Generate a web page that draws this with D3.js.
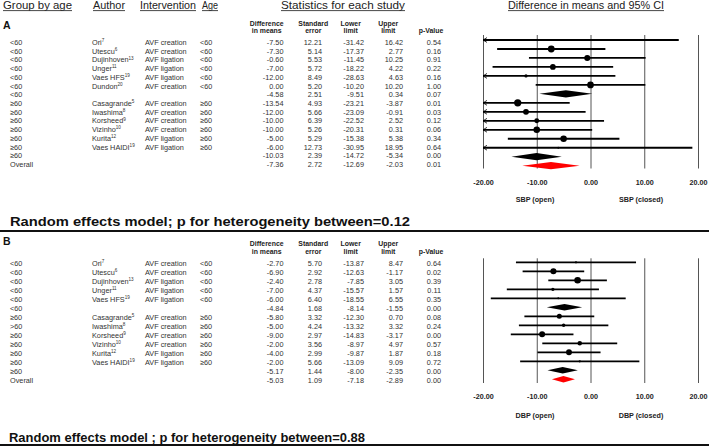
<!DOCTYPE html>
<html><head><meta charset="utf-8">
<script src="https://cdn.jsdelivr.net/npm/d3@7"></script>
<style>
html,body{margin:0;padding:0;background:#fff;}
svg{display:block;font-family:"Liberation Sans",Arial,sans-serif;}
</style></head><body>
<svg id="c" width="709" height="446"></svg>
<script>
// ---------- DATA ----------
const tickVals = [-20, -10, 0, 10, 20];

// Panel A (SBP)
const groupsA = ["<60","<60","<60","<60","<60","<60","<60","≥60","≥60","≥60","≥60","≥60","≥60","≥60","Overall"];
const authorsA = ["Ori","Utescu","Dujinhoven","Unger","Vaes HFS","Dundon","","Casagrande","Iwashima","Korsheed","Vizinho","Kurita","Vaes HAIDI","",""];
const refsA = ["7","6","13","11","19","20","","5","8","9","10","12","19","",""];
const interventionsA = ["AVF creation","AVF creation","AVF ligation","AVF ligation","AVF ligation","AVF creation","","AVF creation","AVF creation","AVF creation","AVF creation","AVF ligation","AVF ligation","",""];
const agesA = ["<60","<60","<60","<60","<60","<60","","≥60","≥60","≥60","≥60","≥60","≥60","",""];
const kindsA = ["s","s","s","s","s","s","sub","s","s","s","s","s","s","sub","all"];
const diffA = [-7.50,-7.30,-0.60,-7.00,-12.00,0.00,-4.58,-13.54,-12.00,-10.00,-10.00,-5.00,-6.00,-10.03,-7.36];
const seA = [12.21,5.14,5.53,5.72,8.49,5.20,2.51,4.93,5.66,6.39,5.26,5.29,12.73,2.39,2.72];
const lowerA = [-31.42,-17.37,-11.45,-18.22,-28.63,-10.20,-9.51,-23.21,-23.09,-22.52,-20.31,-15.38,-30.95,-14.72,-12.69];
const upperA = [16.42,2.77,10.25,4.22,4.63,10.20,0.34,-3.87,-0.91,2.52,0.31,5.38,18.95,-5.34,-2.03];
const pA = [0.54,0.16,0.91,0.22,0.16,1.00,0.07,0.01,0.03,0.12,0.06,0.34,0.64,0.00,0.01];

// Panel B (DBP)
const groupsB = ["<60","<60","<60","<60","<60","<60","≥60",">60","≥60","≥60","≥60","≥60","≥60","Overall"];
const authorsB = ["Ori","Utescu","Dujinhoven","Unger","Vaes HFS","","Casagrande","Iwashima","Korsheed","Vizinho","Kurita","Vaes HAIDI","",""];
const refsB = ["7","6","13","11","19","","5","8","9","10","12","19","",""];
const interventionsB = ["AVF creation","AVF creation","AVF ligation","AVF ligation","AVF ligation","","AVF creation","AVF creation","AVF creation","AVF creation","AVF ligation","AVF ligation","",""];
const agesB = ["<60","<60","<60","<60","<60","","≥60","≥60","≥60","≥60","≥60","≥60","",""];
const kindsB = ["s","s","s","s","s","sub","s","s","s","s","s","s","sub","all"];
const diffB = [-2.70,-6.90,-2.40,-7.00,-6.00,-4.84,-5.80,-5.00,-9.00,-2.00,-4.00,-2.00,-5.17,-5.03];
const seB = [5.70,2.92,2.78,4.37,6.40,1.68,3.32,4.24,2.97,3.56,2.99,5.66,1.44,1.09];
const lowerB = [-13.87,-12.63,-7.85,-15.57,-18.55,-8.14,-12.30,-13.32,-14.83,-8.97,-9.87,-13.09,-8.00,-7.18];
const upperB = [8.47,-1.17,3.05,1.57,6.55,-1.55,0.70,3.32,-3.17,4.97,1.87,9.09,-2.35,-2.89];
const pB = [0.64,0.02,0.39,0.11,0.35,0.00,0.08,0.24,0.00,0.57,0.18,0.72,0.00,0.00];

// ---------- DRAW ----------
const svg = d3.select("#c");
const FONT = '"Liberation Sans",Arial,sans-serif';
const fmt = v => v.toFixed(2);

// top headers
const heads = [
  {t:"Group by age", x:3, w:69},
  {t:"Author", x:93, w:32},
  {t:"Intervention", x:140, w:56},
  {t:"Age", x:202, w:16},
  {t:"Statistics for each study", x:281, w:124},
  {t:"Difference in means and 95% CI", x:508, w:156}
];
heads.forEach(h=>{
  svg.append("text").attr("x",h.x).attr("y",9).attr("font-size",10.5)
    .attr("textLength",h.w).attr("lengthAdjust","spacingAndGlyphs")
    .attr("fill","#222").text(h.t);
  svg.append("line").attr("x1",h.x).attr("x2",h.x+h.w).attr("y1",10.6).attr("y2",10.6)
    .attr("stroke","#333").attr("stroke-width",0.9);
});

const colX = {group:10, author:92, interv:145, age:200, diff:283.5, se:322, lo:364, up:403, p:441};

function panel(o){
  const g = svg.append("g");
  // label
  g.append("text").attr("x",3).attr("y",o.labelY).attr("font-size",10.5).attr("font-weight","bold")
    .attr("fill","#111").text(o.label);
  // stats header
  const sh = [
    {a:"Difference", b:"in means", x:266.7},
    {a:"Standard", b:"error", x:313.3},
    {a:"Lower", b:"limit", x:350.7},
    {a:"Upper", b:"limit", x:388.3},
    {a:"", b:"p-Value", x:431}
  ];
  sh.forEach(s=>{
    if (s.a) g.append("text").attr("x",s.x).attr("y",o.hY).attr("text-anchor","middle").attr("font-size",6.9)
      .attr("font-weight","bold").attr("fill","#222").text(s.a);
    g.append("text").attr("x",s.x).attr("y",o.hY+7.2).attr("text-anchor","middle").attr("font-size",6.9)
      .attr("font-weight","bold").attr("fill","#222").text(s.b);
  });
  const n = o.groups.length;
  const yT = d3.scaleLinear().domain([0,n-1]).range([o.t0,o.t1]);
  const rows = d3.range(n);
  const txt = (x, anchor, f) => g.append("g").selectAll("text").data(rows).join("text")
      .attr("x",x).attr("y",i=>yT(i)+2.6).attr("text-anchor",anchor)
      .attr("font-size",7.3).attr("fill","#333").text(f);
  txt(colX.group,"start",i=>o.groups[i]);
  const au = g.append("g").selectAll("text").data(rows).join("text")
      .attr("x",colX.author).attr("y",i=>yT(i)+2.6).attr("font-size",7.3).attr("fill","#333");
  au.append("tspan").text(i=>o.authors[i]);
  au.append("tspan").attr("font-size",4.6).attr("dy",-2.8).text(i=>o.refs[i]);
  txt(colX.interv,"start",i=>o.interv[i]);
  txt(colX.age,"start",i=>o.ages[i]);
  txt(colX.diff,"end",i=>fmt(o.diff[i]));
  txt(colX.se,"end",i=>fmt(o.se[i]));
  txt(colX.lo,"end",i=>fmt(o.lo[i]));
  txt(colX.up,"end",i=>fmt(o.up[i]));
  txt(colX.p,"end",i=>fmt(o.p[i]));

  // forest
  const x = d3.scaleLinear().domain([-20,20]).range([483,698]);
  const yF = d3.scaleLinear().domain([0,n-1]).range([o.f0,o.f1]);
  const axis = d3.axisBottom(x).tickValues(tickVals).tickFormat(fmt)
    .tickSize(-(o.fBot-o.fTop)).tickPadding(11);
  const ax = g.append("g").attr("transform",`translate(0,${o.fBot})`).call(axis);
  ax.select(".domain").remove();
  ax.selectAll(".tick line").attr("stroke","#555").attr("stroke-width",1);
  ax.selectAll(".tick text").attr("font-size",7.2).attr("font-weight","bold")
    .attr("font-family",FONT).attr("fill","#222");

  const clip = v => Math.max(-20, Math.min(20, v));
  rows.forEach(i=>{
    const y = yF(i);
    if (o.kinds[i]==="s"){
      g.append("line").attr("x1",x(clip(o.lo[i]))).attr("x2",x(clip(o.up[i])))
        .attr("y1",y).attr("y2",y).attr("stroke","#000").attr("stroke-width",1.8);
      if (o.lo[i] < -20){
        g.append("path").attr("d",`M${x(-20)+4},${y-2.4}L${x(-20)},${y}L${x(-20)+4},${y+2.4}`)
          .attr("fill","none").attr("stroke","#000").attr("stroke-width",0.8);
      }
      const r = o.r0*Math.pow(o.se0/o.se[i],1.5);
      g.append("circle").attr("cx",x(o.diff[i])).attr("cy",y).attr("r",Math.max(0.9,r)).attr("fill","#000");
    } else {
      const h = o.dh;
      g.append("path")
        .attr("d",`M${x(o.lo[i])},${y}L${x(o.diff[i])},${y-h}L${x(o.up[i])},${y}L${x(o.diff[i])},${y+h}Z`)
        .attr("fill",o.kinds[i]==="all"?"#ff0000":"#000");
    }
  });
  // axis captions
  g.append("text").attr("x",535).attr("y",o.capY).attr("text-anchor","middle").attr("font-size",7.2)
    .attr("font-weight","bold").attr("fill","#222").text(o.capL);
  g.append("text").attr("x",641).attr("y",o.capY).attr("text-anchor","middle").attr("font-size",7.2)
    .attr("font-weight","bold").attr("fill","#222").text(o.capR);
  // title
  g.append("text").attr("x",o.titleX).attr("y",o.titleY).attr("font-size",o.titleFs)
    .attr("font-weight",o.titleW).attr("fill","#111")
    .attr("textLength",o.titleLen).attr("lengthAdjust","spacingAndGlyphs").text(o.title);
  g.append("line").attr("x1",0).attr("x2",709).attr("y1",o.lineY).attr("y2",o.lineY)
    .attr("stroke","#111").attr("stroke-width",2);
}

panel({label:"A", labelY:28.5, hY:25.5, groups:groupsA, authors:authorsA, refs:refsA, interv:interventionsA,
  ages:agesA, kinds:kindsA, diff:diffA, se:seA, lo:lowerA, up:upperA, p:pA,
  t0:42.3, t1:164.5, f0:40, f1:165.7, fTop:35, fBot:168.5, r0:3.4, se0:5.14, dh:3.6,
  capY:202, capL:"SBP (open)", capR:"SBP (closed)",
  title:"Random effects model; p for heterogeneity between=0.12", titleX:10, titleY:226, titleFs:12.5,
  titleW:"bold", titleLen:400, lineY:231});

panel({label:"B", labelY:244.5, hY:246.3, groups:groupsB, authors:authorsB, refs:refsB, interv:interventionsB,
  ages:agesB, kinds:kindsB, diff:diffB, se:seB, lo:lowerB, up:upperB, p:pB,
  t0:263.3, t1:380.3, f0:262.3, f1:379.3, fTop:258.3, fBot:383, r0:3.3, se0:2.78, dh:3.3,
  capY:418, capL:"DBP (open)", capR:"DBP (closed)",
  title:"Random effects model ; p for heterogeneity between=0.88", titleX:9, titleY:441.5, titleFs:12.5,
  titleW:"bold", titleLen:356, lineY:445});
</script>
</body></html>
